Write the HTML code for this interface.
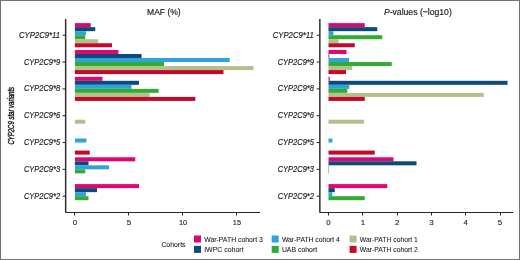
<!DOCTYPE html><html><head><meta charset="utf-8"><style>
html,body{margin:0;padding:0;background:#fff;overflow:hidden;width:520px;height:260px;}
svg{display:block;will-change:transform;}
text{font-family:"Liberation Sans",sans-serif;stroke:#222;stroke-width:0.18px;}
</style></head><body>
<svg width="520" height="260" viewBox="0 0 520 260">
<rect x="0" y="0" width="520" height="260" fill="#fff"/>
<rect x="74.90" y="23.13" width="15.85" height="4.02" fill="#E0066F"/>
<rect x="74.90" y="27.15" width="20.35" height="4.02" fill="#0B4A7A"/>
<rect x="74.90" y="31.18" width="11.10" height="4.02" fill="#2FA3DB"/>
<rect x="74.90" y="35.20" width="10.35" height="4.02" fill="#31AC31"/>
<rect x="74.90" y="39.22" width="23.35" height="4.02" fill="#B3C08D"/>
<rect x="74.90" y="43.25" width="37.10" height="4.02" fill="#C3082A"/>
<rect x="74.90" y="49.96" width="43.50" height="4.02" fill="#E0066F"/>
<rect x="74.90" y="53.98" width="66.60" height="4.02" fill="#0B4A7A"/>
<rect x="74.90" y="58.01" width="154.85" height="4.02" fill="#2FA3DB"/>
<rect x="74.90" y="62.03" width="89.10" height="4.02" fill="#31AC31"/>
<rect x="74.90" y="66.05" width="178.60" height="4.02" fill="#B3C08D"/>
<rect x="74.90" y="70.08" width="148.60" height="4.02" fill="#C3082A"/>
<rect x="74.90" y="76.79" width="27.60" height="4.02" fill="#E0066F"/>
<rect x="74.90" y="80.81" width="64.10" height="4.02" fill="#0B4A7A"/>
<rect x="74.90" y="84.84" width="56.60" height="4.02" fill="#2FA3DB"/>
<rect x="74.90" y="88.86" width="83.70" height="4.02" fill="#31AC31"/>
<rect x="74.90" y="92.88" width="74.70" height="4.02" fill="#B3C08D"/>
<rect x="74.90" y="96.91" width="120.40" height="4.02" fill="#C3082A"/>
<rect x="74.90" y="119.71" width="10.35" height="4.02" fill="#B3C08D"/>
<rect x="74.90" y="138.50" width="11.60" height="4.02" fill="#2FA3DB"/>
<rect x="74.90" y="150.57" width="14.85" height="4.02" fill="#C3082A"/>
<rect x="74.90" y="157.28" width="60.35" height="4.02" fill="#E0066F"/>
<rect x="74.90" y="161.30" width="13.60" height="4.02" fill="#0B4A7A"/>
<rect x="74.90" y="165.33" width="34.10" height="4.02" fill="#2FA3DB"/>
<rect x="74.90" y="169.35" width="10.35" height="4.02" fill="#31AC31"/>
<rect x="74.90" y="184.11" width="64.10" height="4.02" fill="#E0066F"/>
<rect x="74.90" y="188.13" width="22.10" height="4.02" fill="#0B4A7A"/>
<rect x="74.90" y="192.16" width="11.10" height="4.02" fill="#2FA3DB"/>
<rect x="74.90" y="196.18" width="13.60" height="4.02" fill="#31AC31"/>
<rect x="328.50" y="23.13" width="36.25" height="4.02" fill="#E0066F"/>
<rect x="328.50" y="27.15" width="48.75" height="4.02" fill="#0B4A7A"/>
<rect x="328.50" y="31.18" width="5.00" height="4.02" fill="#2FA3DB"/>
<rect x="328.50" y="35.20" width="53.75" height="4.02" fill="#31AC31"/>
<rect x="328.50" y="39.22" width="10.00" height="4.02" fill="#B3C08D"/>
<rect x="328.50" y="43.25" width="26.25" height="4.02" fill="#C3082A"/>
<rect x="328.50" y="49.96" width="18.00" height="4.02" fill="#E0066F"/>
<rect x="328.50" y="53.98" width="0.75" height="4.02" fill="#0B4A7A"/>
<rect x="328.50" y="58.01" width="20.50" height="4.02" fill="#2FA3DB"/>
<rect x="328.50" y="62.03" width="63.25" height="4.02" fill="#31AC31"/>
<rect x="328.50" y="66.05" width="23.75" height="4.02" fill="#B3C08D"/>
<rect x="328.50" y="70.08" width="17.50" height="4.02" fill="#C3082A"/>
<rect x="328.50" y="76.79" width="1.25" height="4.02" fill="#E0066F"/>
<rect x="328.50" y="80.81" width="179.00" height="4.02" fill="#0B4A7A"/>
<rect x="328.50" y="84.84" width="20.75" height="4.02" fill="#2FA3DB"/>
<rect x="328.50" y="88.86" width="18.75" height="4.02" fill="#31AC31"/>
<rect x="328.50" y="92.88" width="155.25" height="4.02" fill="#B3C08D"/>
<rect x="328.50" y="96.91" width="36.25" height="4.02" fill="#C3082A"/>
<rect x="328.50" y="119.71" width="35.50" height="4.02" fill="#B3C08D"/>
<rect x="328.50" y="138.50" width="3.90" height="4.02" fill="#2FA3DB"/>
<rect x="328.50" y="150.57" width="46.25" height="4.02" fill="#C3082A"/>
<rect x="328.50" y="157.28" width="65.00" height="4.02" fill="#E0066F"/>
<rect x="328.50" y="161.30" width="88.00" height="4.02" fill="#0B4A7A"/>
<rect x="328.50" y="165.33" width="0.60" height="4.02" fill="#2FA3DB"/>
<rect x="328.50" y="169.35" width="0.60" height="4.02" fill="#31AC31"/>
<rect x="328.50" y="184.11" width="58.75" height="4.02" fill="#E0066F"/>
<rect x="328.50" y="188.13" width="6.25" height="4.02" fill="#0B4A7A"/>
<rect x="328.50" y="192.16" width="3.75" height="4.02" fill="#2FA3DB"/>
<rect x="328.50" y="196.18" width="36.25" height="4.02" fill="#31AC31"/>
<line x1="65.65" y1="19" x2="65.65" y2="212.5" stroke="#303030" stroke-width="1.5"/>
<line x1="65.5" y1="212.5" x2="260" y2="212.5" stroke="#262626" stroke-width="1"/>
<line x1="62.5" y1="35.20" x2="65.5" y2="35.20" stroke="#262626" stroke-width="1"/>
<line x1="62.5" y1="62.03" x2="65.5" y2="62.03" stroke="#262626" stroke-width="1"/>
<line x1="62.5" y1="88.86" x2="65.5" y2="88.86" stroke="#262626" stroke-width="1"/>
<line x1="62.5" y1="115.69" x2="65.5" y2="115.69" stroke="#262626" stroke-width="1"/>
<line x1="62.5" y1="142.52" x2="65.5" y2="142.52" stroke="#262626" stroke-width="1"/>
<line x1="62.5" y1="169.35" x2="65.5" y2="169.35" stroke="#262626" stroke-width="1"/>
<line x1="62.5" y1="196.18" x2="65.5" y2="196.18" stroke="#262626" stroke-width="1"/>
<line x1="74.50" y1="212.5" x2="74.50" y2="215.5" stroke="#262626" stroke-width="1"/>
<text x="74.95" y="224.6" font-size="7.9" fill="#222" style="stroke-width:0.12px" text-anchor="middle">0</text>
<line x1="128.50" y1="212.5" x2="128.50" y2="215.5" stroke="#262626" stroke-width="1"/>
<text x="128.90" y="224.6" font-size="7.9" fill="#222" style="stroke-width:0.12px" text-anchor="middle">5</text>
<line x1="182.50" y1="212.5" x2="182.50" y2="215.5" stroke="#262626" stroke-width="1"/>
<text x="178.90" y="224.6" font-size="7.9" fill="#222" style="stroke-width:0.12px" textLength="8.2" lengthAdjust="spacingAndGlyphs">10</text>
<line x1="236.50" y1="212.5" x2="236.50" y2="215.5" stroke="#262626" stroke-width="1"/>
<text x="232.85" y="224.6" font-size="7.9" fill="#222" style="stroke-width:0.12px" textLength="8.2" lengthAdjust="spacingAndGlyphs">15</text>
<line x1="319.84999999999997" y1="19" x2="319.84999999999997" y2="212.5" stroke="#303030" stroke-width="1.5"/>
<line x1="319.7" y1="212.5" x2="513.3" y2="212.5" stroke="#262626" stroke-width="1"/>
<line x1="316.7" y1="35.20" x2="319.7" y2="35.20" stroke="#262626" stroke-width="1"/>
<line x1="316.7" y1="62.03" x2="319.7" y2="62.03" stroke="#262626" stroke-width="1"/>
<line x1="316.7" y1="88.86" x2="319.7" y2="88.86" stroke="#262626" stroke-width="1"/>
<line x1="316.7" y1="115.69" x2="319.7" y2="115.69" stroke="#262626" stroke-width="1"/>
<line x1="316.7" y1="142.52" x2="319.7" y2="142.52" stroke="#262626" stroke-width="1"/>
<line x1="316.7" y1="169.35" x2="319.7" y2="169.35" stroke="#262626" stroke-width="1"/>
<line x1="316.7" y1="196.18" x2="319.7" y2="196.18" stroke="#262626" stroke-width="1"/>
<line x1="328.50" y1="212.5" x2="328.50" y2="215.5" stroke="#262626" stroke-width="1"/>
<text x="328.55" y="224.6" font-size="7.9" fill="#222" style="stroke-width:0.12px" text-anchor="middle">0</text>
<line x1="362.50" y1="212.5" x2="362.50" y2="215.5" stroke="#262626" stroke-width="1"/>
<text x="362.85" y="224.6" font-size="7.9" fill="#222" style="stroke-width:0.12px" text-anchor="middle">1</text>
<line x1="397.50" y1="212.5" x2="397.50" y2="215.5" stroke="#262626" stroke-width="1"/>
<text x="397.15" y="224.6" font-size="7.9" fill="#222" style="stroke-width:0.12px" text-anchor="middle">2</text>
<line x1="431.50" y1="212.5" x2="431.50" y2="215.5" stroke="#262626" stroke-width="1"/>
<text x="431.45" y="224.6" font-size="7.9" fill="#222" style="stroke-width:0.12px" text-anchor="middle">3</text>
<line x1="465.50" y1="212.5" x2="465.50" y2="215.5" stroke="#262626" stroke-width="1"/>
<text x="465.75" y="224.6" font-size="7.9" fill="#222" style="stroke-width:0.12px" text-anchor="middle">4</text>
<line x1="500.50" y1="212.5" x2="500.50" y2="215.5" stroke="#262626" stroke-width="1"/>
<text x="500.05" y="224.6" font-size="7.9" fill="#222" style="stroke-width:0.12px" text-anchor="middle">5</text>
<text x="18.90" y="37.80" font-size="8.8" font-style="italic" fill="#222" textLength="41.2" lengthAdjust="spacingAndGlyphs">CYP2C9*11</text>
<text x="23.90" y="64.63" font-size="8.8" font-style="italic" fill="#222" textLength="36.2" lengthAdjust="spacingAndGlyphs">CYP2C9*9</text>
<text x="23.90" y="91.46" font-size="8.8" font-style="italic" fill="#222" textLength="36.2" lengthAdjust="spacingAndGlyphs">CYP2C9*8</text>
<text x="23.90" y="118.29" font-size="8.8" font-style="italic" fill="#222" textLength="36.2" lengthAdjust="spacingAndGlyphs">CYP2C9*6</text>
<text x="23.90" y="145.12" font-size="8.8" font-style="italic" fill="#222" textLength="36.2" lengthAdjust="spacingAndGlyphs">CYP2C9*5</text>
<text x="23.90" y="171.95" font-size="8.8" font-style="italic" fill="#222" textLength="36.2" lengthAdjust="spacingAndGlyphs">CYP2C9*3</text>
<text x="23.90" y="198.78" font-size="8.8" font-style="italic" fill="#222" textLength="36.2" lengthAdjust="spacingAndGlyphs">CYP2C9*2</text>
<text x="272.70" y="37.80" font-size="8.8" font-style="italic" fill="#222" textLength="41.2" lengthAdjust="spacingAndGlyphs">CYP2C9*11</text>
<text x="277.70" y="64.63" font-size="8.8" font-style="italic" fill="#222" textLength="36.2" lengthAdjust="spacingAndGlyphs">CYP2C9*9</text>
<text x="277.70" y="91.46" font-size="8.8" font-style="italic" fill="#222" textLength="36.2" lengthAdjust="spacingAndGlyphs">CYP2C9*8</text>
<text x="277.70" y="118.29" font-size="8.8" font-style="italic" fill="#222" textLength="36.2" lengthAdjust="spacingAndGlyphs">CYP2C9*6</text>
<text x="277.70" y="145.12" font-size="8.8" font-style="italic" fill="#222" textLength="36.2" lengthAdjust="spacingAndGlyphs">CYP2C9*5</text>
<text x="277.70" y="171.95" font-size="8.8" font-style="italic" fill="#222" textLength="36.2" lengthAdjust="spacingAndGlyphs">CYP2C9*3</text>
<text x="277.70" y="198.78" font-size="8.8" font-style="italic" fill="#222" textLength="36.2" lengthAdjust="spacingAndGlyphs">CYP2C9*2</text>
<text transform="translate(13.6,115.75) rotate(-90)" x="0" y="0" font-size="8.2" font-style="italic" fill="#222" style="stroke-width:0.45px" text-anchor="middle" textLength="57.7" lengthAdjust="spacingAndGlyphs">CYP2C9 star variants</text>
<text x="147.1" y="14.5" font-size="9.1" fill="#222" textLength="33.6" lengthAdjust="spacingAndGlyphs">MAF (%)</text>
<text x="383.9" y="14.5" font-size="9.1" fill="#222" textLength="67.9" lengthAdjust="spacingAndGlyphs"><tspan font-style="italic">P</tspan>-values (&#8722;log10)</text>
<text x="161.4" y="246.5" font-size="6.9" fill="#222" style="stroke-width:0.08px">Cohorts</text>
<rect x="194.0" y="235.5" width="7" height="7" fill="#E0066F"/>
<text x="204.2" y="241.50" font-size="6.95" fill="#222" style="stroke-width:0.08px" textLength="58.6" lengthAdjust="spacingAndGlyphs">War-PATH cohort 3</text>
<rect x="194.0" y="245.9" width="7" height="7" fill="#0B4A7A"/>
<text x="204.2" y="251.90" font-size="6.95" fill="#222" style="stroke-width:0.08px" textLength="39.4" lengthAdjust="spacingAndGlyphs">IWPC cohort</text>
<rect x="271.7" y="235.5" width="7" height="7" fill="#2FA3DB"/>
<text x="281.9" y="241.50" font-size="6.95" fill="#222" style="stroke-width:0.08px" textLength="58.0" lengthAdjust="spacingAndGlyphs">War-PATH cohort 4</text>
<rect x="271.7" y="245.9" width="7" height="7" fill="#31AC31"/>
<text x="281.9" y="251.90" font-size="6.95" fill="#222" style="stroke-width:0.08px" textLength="35.2" lengthAdjust="spacingAndGlyphs">UAB cohort</text>
<rect x="349.6" y="235.5" width="7" height="7" fill="#B3C08D"/>
<text x="359.8" y="241.50" font-size="6.95" fill="#222" style="stroke-width:0.08px" textLength="58.0" lengthAdjust="spacingAndGlyphs">War-PATH cohort 1</text>
<rect x="349.6" y="245.9" width="7" height="7" fill="#C3082A"/>
<text x="359.8" y="251.90" font-size="6.95" fill="#222" style="stroke-width:0.08px" textLength="58.0" lengthAdjust="spacingAndGlyphs">War-PATH cohort 2</text>
<rect x="0.5" y="0.5" width="519" height="259" fill="none" stroke="#717171" stroke-width="1"/>
</svg></body></html>
